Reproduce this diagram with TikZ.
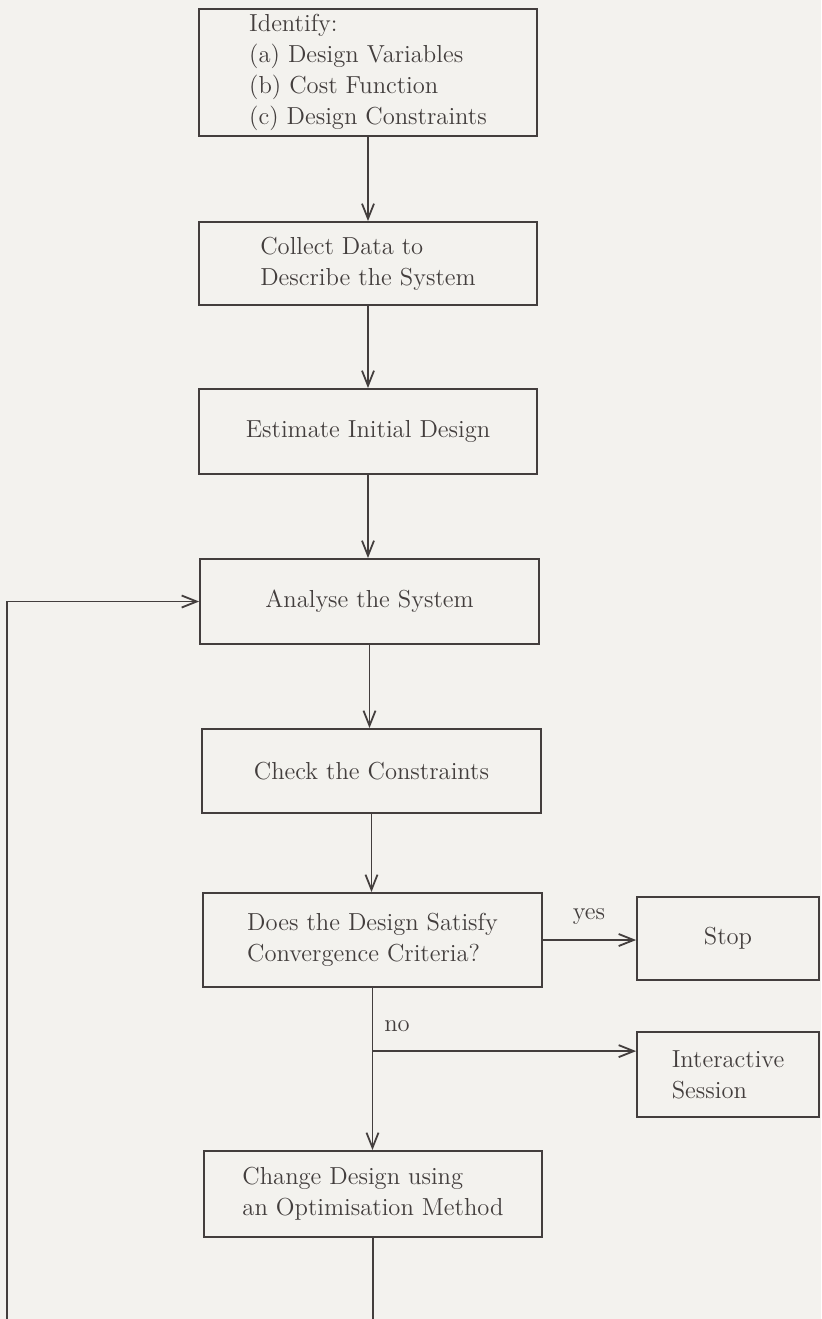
\documentclass[tikz,border=0pt]{standalone}
\usetikzlibrary{arrows.meta,calc}
\definecolor{pagebg}{HTML}{F3F2EE}
\definecolor{ink}{HTML}{433E3D}
\begin{document}
\begin{tikzpicture}[x=0.5pt,y=-0.5pt,
  box/.style={draw=ink, line width=0.9pt, text=ink, align=left, inner sep=0pt,
    font=\fontsize{12.3pt}{15.5pt}\selectfont},
  flow/.style={draw=ink, line width=0.9pt, line join=miter,
    -{Straight Barb[length=7.5pt,width=6pt]}},
  lbl/.style={text=ink, inner sep=0pt, font=\fontsize{12.3pt}{15.5pt}\selectfont}]
\fill[pagebg] (0,0) rectangle (821,1319);
\useasboundingbox (0,0) rectangle (821,1319);

\node[box, minimum width=169pt, minimum height=63.5pt] (ident) at (368,72.5)
  {Identify:\\(a) Design Variables\\(b) Cost Function\\(c) Design Constraints};
\node[box, minimum width=169pt, minimum height=41.5pt] (collect) at (368,263.5)
  {Collect Data to\\Describe the System};
\node[box, minimum width=169pt, minimum height=42.5pt] (estimate) at (368,431.5)
  {Estimate Initial Design};
\node[box, minimum width=169.5pt, minimum height=42.5pt] (analyse) at (369.5,601.5)
  {Analyse the System};
\node[box, minimum width=169.5pt, minimum height=42pt] (check) at (371.5,771)
  {Check the Constraints};
\node[box, minimum width=169.5pt, minimum height=47pt] (decision) at (372.5,940)
  {Does the Design Satisfy\\Convergence Criteria?};
\node[box, minimum width=91pt, minimum height=41.5pt] (stop) at (728,938.5)
  {Stop};
\node[box, minimum width=91pt, minimum height=42.5pt] (interactive) at (728,1074.5)
  {Interactive\\Session};
\node[box, minimum width=169pt, minimum height=43pt] (change) at (373,1194)
  {Change Design using\\an Optimisation Method};

\draw[flow] (ident.south) -- (ident.south |- collect.north);
\draw[flow] (collect.south) -- (collect.south |- estimate.north);
\draw[flow] (estimate.south) -- (estimate.south |- analyse.north);
\draw[flow] (analyse.south) -- (analyse.south |- check.north);
\draw[flow] (check.south) -- (check.south |- decision.north);
\draw[flow] (decision.east) -- (decision.east -| stop.west);
\node[lbl] (yes) at (589,917) {yes};

\coordinate (intin) at ($(interactive.north west)+(0,20)$);
\coordinate (nob) at (decision.south |- intin);
\draw[flow] (decision.south) |- (intin);
\node[lbl] (no) at (397,1026) {no};
\draw[flow] (nob) -- (nob |- change.north);

\coordinate (loopR) at ($(change.south)+(0,120)$);
\coordinate (loopL) at (7,1314);
\draw[flow] (change.south) -- (loopR) -| (loopL) |- (analyse.west);
\end{tikzpicture}
\end{document}
